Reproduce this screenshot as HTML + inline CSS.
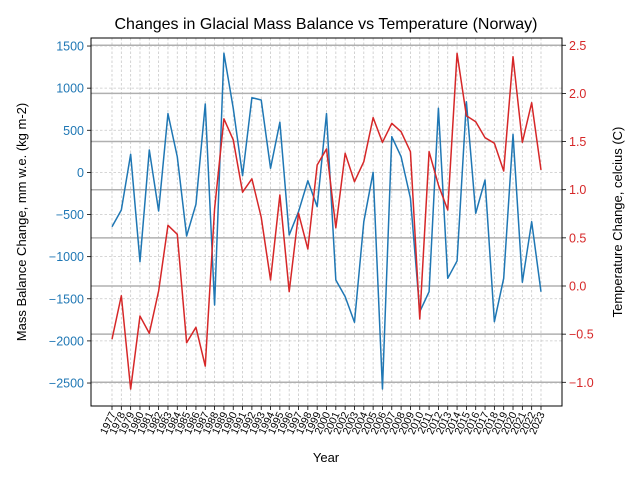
<!DOCTYPE html>
<html><head><meta charset="utf-8"><style>
html,body{margin:0;padding:0;background:#fff;}
svg{display:block;font-family:"Liberation Sans","DejaVu Sans",sans-serif;}
</style></head><body>
<svg id="chart" width="640" height="480" viewBox="0 0 640 480">
<rect width="640" height="480" fill="#fff"/>
<text x="326" y="29" text-anchor="middle" font-size="16">Changes in Glacial Mass Balance vs Temperature (Norway)</text>
<g id="grid"></g><g id="series"></g><g id="axes"></g>
<text x="0" y="0" transform="translate(26,222) rotate(-90)" text-anchor="middle" font-size="13">Mass Balance Change, mm w.e. (kg m-2)</text>
<text x="0" y="0" transform="translate(622,222) rotate(-90)" text-anchor="middle" font-size="13">Temperature Change, celcius (C)</text>
<text x="326" y="462" text-anchor="middle" font-size="13">Year</text>
</svg>
<script>
const years=[1977,1978,1979,1980,1981,1982,1983,1984,1985,1986,1987,1988,1989,1990,1991,1992,1993,1994,1995,1996,1997,1998,1999,2000,2001,2002,2003,2004,2005,2006,2007,2008,2009,2010,2011,2012,2013,2014,2015,2016,2017,2018,2019,2020,2021,2022,2023];
const massBalance=[-645,-446,215,-1060,266,-458,697,186,-755,-379,812,-1574,1414,761,-39,887,859,49,595,-743,-466,-99,-407,697,-1277,-1475,-1779,-585,1,-2571,424,186,-307,-1653,-1416,761,-1257,-1051,839,-485,-90,-1772,-1257,452,-1304,-585,-1417];
const tempChange=[-0.553,-0.101,-1.07,-0.312,-0.491,-0.052,0.630,0.537,-0.589,-0.429,-0.831,0.802,1.736,1.518,0.974,1.113,0.714,0.062,0.945,-0.059,0.755,0.384,1.257,1.423,0.605,1.378,1.083,1.291,1.748,1.492,1.689,1.602,1.395,-0.343,1.395,1.049,0.789,2.416,1.768,1.706,1.540,1.482,1.194,2.381,1.492,1.903,1.205];
const leftTicks=[1500,1000,500,0,-500,-1000,-1500,-2000,-2500];
const rightTicks=[2.5,2.0,1.5,1.0,0.5,0.0,-0.5,-1.0];
const NS='http://www.w3.org/2000/svg';
const L=91,R=562,T=38,B=406;
const x=i=>112+i*(541-112)/(years.length-1);
const yL=v=>172.4-v*0.08425;
const yR=v=>286-v*96.3;
function mk(tag,attrs,parent,txt){const e=document.createElementNS(NS,tag);for(const k in attrs)e.setAttribute(k,attrs[k]);if(txt!==undefined)e.textContent=txt;parent.appendChild(e);return e;}
const grid=document.getElementById('grid'),ser=document.getElementById('series'),ax=document.getElementById('axes');
years.forEach((yr,i)=>{
 const g=mk('line',{x1:x(i),x2:x(i),y1:T,y2:B,stroke:'#c8c8c8','stroke-width':0.8,'stroke-dasharray':'2.5,2'},grid);
 
 
 mk('line',{x1:x(i),x2:x(i),y1:B,y2:B+4,stroke:'#000','stroke-width':0.8},ax);
 const t=mk('text',{x:0,y:0,transform:`translate(${x(i)+4},${B+8}) rotate(-65)`,'text-anchor':'end','font-size':10.5},ax,yr);
 
 
});
leftTicks.forEach(v=>{
 const g=mk('line',{x1:L,x2:R,y1:yL(v),y2:yL(v),stroke:'#c8c8c8','stroke-width':0.8,'stroke-dasharray':'2.5,2'},grid);
 
 
 mk('line',{x1:L-4,x2:L,y1:yL(v),y2:yL(v),stroke:'#000','stroke-width':0.8},ax);
 const t=mk('text',{x:L-7,y:yL(v)+4.5,'text-anchor':'end','font-size':12.5,fill:'#1f77b4'},ax,v<0?'\u2212'+Math.abs(v):v);
 
 
});
rightTicks.forEach(v=>{
 const g=mk('line',{x1:L,x2:R,y1:yR(v),y2:yR(v),stroke:'#b0b0b0','stroke-width':1.5},grid);
 
 
 mk('line',{x1:R,x2:R+4,y1:yR(v),y2:yR(v),stroke:'#000','stroke-width':0.8},ax);
 const t=mk('text',{x:R+7,y:yR(v)+4.5,'text-anchor':'start','font-size':12.5,fill:'#d62728'},ax,(v<0?'\u2212':'')+Math.abs(v).toFixed(1));
 
 
});
const b=mk('polyline',{points:massBalance.map((v,i)=>x(i)+','+yL(v)).join(' '),fill:'none',stroke:'#1f77b4','stroke-width':1.5,'stroke-linejoin':'round'},ser);


const r=mk('polyline',{points:tempChange.map((v,i)=>x(i)+','+yR(v)).join(' '),fill:'none',stroke:'#d62728','stroke-width':1.5,'stroke-linejoin':'round'},ser);


const f=mk('rect',{x:L,y:T,width:R-L,height:B-T,fill:'none',stroke:'#000','stroke-width':1},ax);


</script>
</body></html>
